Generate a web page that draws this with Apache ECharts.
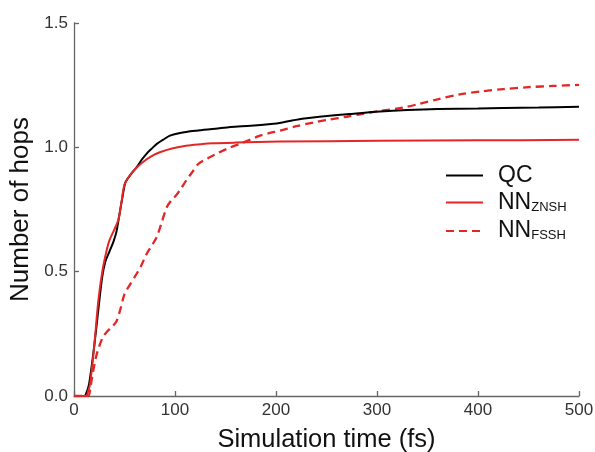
<!DOCTYPE html>
<html>
<head>
<meta charset="utf-8">
<script src="https://cdn.jsdelivr.net/npm/echarts@6/dist/echarts.min.js"></script>
<style>html,body{margin:0;padding:0;background:#fff}#c{width:595px;height:452px}</style>
</head>
<body>
<div id="c"></div>
<script>
const seriesNames = ['QC', 'NN_ZNSH', 'NN_FSSH'];
const xTicks = [0, 100, 200, 300, 400, 500];
const yTicks = [0.0, 0.5, 1.0, 1.5];

const tQC = [0,10,12,15,20,25,28,31,35,39,42,45,48,51,56,62,67,72,77,82,88,95,105,121,140,155,175,195,205,215,228,243,273,303,330,360,400,425,460,500];
const vQC = [0,0,0.01,0.05,0.2,0.38,0.48,0.54,0.58,0.62,0.66,0.73,0.80,0.86,0.89,0.92,0.95,0.975,0.995,1.014,1.03,1.047,1.058,1.067,1.075,1.082,1.087,1.094,1.099,1.107,1.116,1.123,1.134,1.144,1.15,1.154,1.156,1.158,1.16,1.163];

const tZN = [0,12,14,16,20,24,28,32,35,40,44,47,50,55,60,68,76,85,98,111,125,137,160,204,300,400,500];
const vZN = [0,0,0.02,0.05,0.2,0.38,0.5,0.58,0.625,0.67,0.71,0.78,0.85,0.885,0.91,0.94,0.963,0.98,0.996,1.006,1.012,1.016,1.019,1.023,1.026,1.028,1.03];

const tFS = [0,14,16,19,22,25,29,33,38,42,46,50,55,60,66,72,77,82,87,92,97,101,106,111,117,123,132,141,152,164,174,184,194,204,220,237,253,270,286,303,326,342,359,382,403,425,450,475,500];
const vFS = [0,0,0.03,0.1,0.16,0.2,0.24,0.26,0.28,0.3,0.35,0.41,0.445,0.478,0.52,0.572,0.605,0.64,0.7,0.76,0.79,0.806,0.835,0.866,0.9,0.933,0.955,0.974,0.995,1.014,1.03,1.047,1.058,1.067,1.085,1.1,1.112,1.123,1.135,1.146,1.16,1.175,1.192,1.213,1.225,1.234,1.242,1.247,1.251];

const zip = (a, b) => a.map((x, i) => [x, b[i]]);
const RED = '#e32626';
const FONT = 'Liberation Sans, Arial, sans-serif';

const chart = echarts.init(document.getElementById('c'), null, {renderer: 'canvas'});
chart.setOption({
  animation: false,
  backgroundColor: '#fff',
  grid: {left: 74, right: 16, top: 23, bottom: 56, containLabel: false, outerBoundsMode: 'none'},
  xAxis: {
    type: 'value', min: xTicks[0], max: xTicks[xTicks.length - 1], interval: 100,
    name: 'Simulation time (fs)', nameLocation: 'middle', nameGap: 31,
    nameTextStyle: {fontFamily: FONT, fontSize: 25.5, color: '#111'},
    axisLine: {show: true, lineStyle: {color: '#666', width: 1.3}},
    axisTick: {show: true, inside: true, length: 5, lineStyle: {color: '#666', width: 1.3}},
    axisLabel: {fontFamily: FONT, fontSize: 17, color: '#333', margin: 6},
    splitLine: {show: false}
  },
  yAxis: {
    type: 'value', min: yTicks[0], max: yTicks[yTicks.length - 1], interval: 0.5,
    name: 'Number of hops', nameLocation: 'middle', nameGap: 38, nameRotate: 90,
    nameTextStyle: {fontFamily: FONT, fontSize: 26, color: '#111'},
    axisLine: {show: true, lineStyle: {color: '#666', width: 1.3}},
    axisTick: {show: true, inside: true, length: 5, lineStyle: {color: '#666', width: 1.3}},
    axisLabel: {fontFamily: FONT, fontSize: 17, color: '#333', margin: 6, formatter: v => v.toFixed(1)},
    splitLine: {show: false}
  },
  legend: {
    left: 440, top: 159, orient: 'vertical', itemWidth: 37, itemHeight: 14, itemGap: 4,
    data: seriesNames,
    itemStyle: {opacity: 0},
    formatter: n => {
      const p = n.split('_');
      return p.length > 1 ? '{b|' + p[0] + '}{s|' + p[1] + '}' : '{b|' + p[0] + '}';
    },
    textStyle: {
      fontFamily: FONT, color: '#111',
      rich: {
        b: {fontFamily: FONT, fontSize: 23, lineHeight: 26, color: '#111', padding: [0, 0, 0, 10]},
        s: {fontFamily: FONT, fontSize: 13, lineHeight: 15, color: '#111', verticalAlign: 'bottom', padding: [0, 0, 2, 0]}
      }
    }
  },
  series: [
    {name: seriesNames[0], type: 'line', data: zip(tQC, vQC), showSymbol: false, symbol: 'none', smooth: 0.3,
     lineStyle: {color: '#000', width: 2}, itemStyle: {color: '#000'}, z: 3},
    {name: seriesNames[1], type: 'line', data: zip(tZN, vZN), showSymbol: false, symbol: 'none', smooth: 0.3,
     lineStyle: {color: RED, width: 2}, itemStyle: {color: RED}, z: 4},
    {name: seriesNames[2], type: 'line', data: zip(tFS, vFS), showSymbol: false, symbol: 'none', smooth: 0.3,
     lineStyle: {color: RED, width: 2.3, type: [8, 5]}, itemStyle: {color: RED}, z: 2}
  ]
});
</script>
</body>
</html>
